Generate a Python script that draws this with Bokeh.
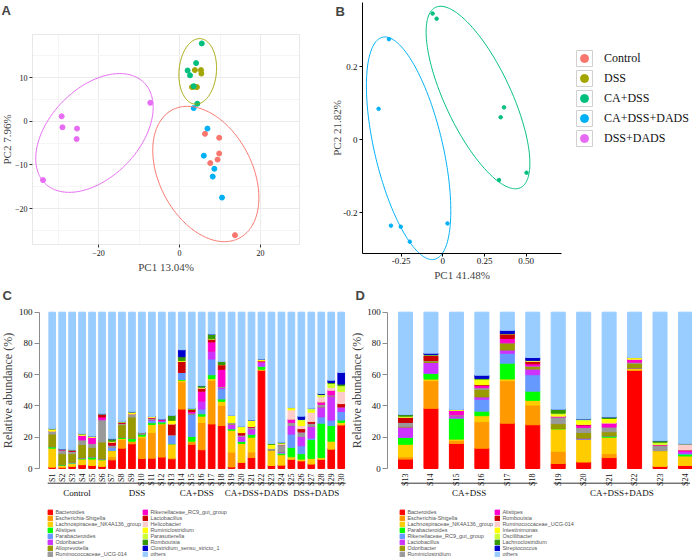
import numpy as np
from bokeh.plotting import figure
from bokeh.layouts import row, column
from bokeh.models import (Range1d, Legend, LegendItem, Label, LabelSet, Whisker, Grid,
                          ColumnDataSource, FixedTicker, LinearAxis, BoxAnnotation)
from bokeh.embed import file_html
from bokeh.resources import INLINE

SERIF = "Liberation Serif"
SANS = "Liberation Sans"

# ---------------- data ----------------
groups = ["Control", "DSS", "CA+DSS", "CA+DSS+DADS", "DSS+DADS"]
group_colors = ["#F8766D", "#A3A500", "#00BF7D", "#00B0F6", "#E76BF3"]

# Panel A (PCA) scores
a_control_pc1 = [6.3, 9.8, 9.8, 7.6, 9.4, 13.7]
a_control_pc2 = [-2.9, -3.8, -7.4, -9.6, -8.8, -26.1]
a_dss_pc1 = [3.8, 5.3, 5.4, 3.1, 4.3, 3.7]
a_dss_pc2 = [11.7, 11.7, 10.9, 7.8, 7.8, 7.9]
a_cadss_pc1 = [5.5, 4.1, 2.0, 2.6, 3.5, 4.4]
a_cadss_pc2 = [17.8, 13.3, 11.6, 10.5, 8.0, 4.0]
a_cadssdads_pc1 = [3.5, 6.9, 6.0, 8.6, 8.2, 10.5]
a_cadssdads_pc2 = [3.0, -1.7, -7.9, -10.9, -12.7, -17.5]
a_dssdads_pc1 = [-7.2, -29.1, -28.9, -25.3, -25.4, -33.7]
a_dssdads_pc2 = [4.2, 1.1, -1.4, -1.7, -4.1, -13.5]
# confidence ellipses: centre, half width, half height, correlation
a_ellipse_groups = ["Control", "DSS", "DSS+DADS"]
a_ellipse_cx = [6.5, 4.5, -21.0]
a_ellipse_cy = [-12.1, 11.4, -2.7]
a_ellipse_hx = [13.1, 4.65, 14.5]
a_ellipse_hy = [15.5, 7.5, 13.6]
a_ellipse_r = [-0.35, 0.10, 0.43]
a_xticks = [-20, 0, 20]
a_yticks = [-20, -10, 0, 10]

# Panel B (PCoA) scores
b_cadss_pc1 = [-0.061, -0.037, 0.367, 0.347, 0.502, 0.337]
b_cadss_pc2 = [0.345, 0.331, 0.088, 0.061, -0.091, -0.111]
b_cadssdads_pc1 = [-0.323, -0.385, -0.311, -0.252, -0.198, 0.028]
b_cadssdads_pc2 = [0.275, 0.084, -0.236, -0.239, -0.280, -0.230]
b_ellipse_groups = ["CA+DSS", "CA+DSS+DADS"]
b_ellipse_cx = [0.211, -0.205]
b_ellipse_cy = [0.115, -0.024]
b_ellipse_hx = [0.311, 0.253]
b_ellipse_hy = [0.250, 0.305]
b_ellipse_r = [-0.72, -0.56]
b_xticks = [-0.25, 0, 0.25, 0.5]
b_xlabels = ["-0.25", "0", "0.25", "0.50"]
b_yticks = [-0.2, 0, 0.2]
b_ylabels = ["-0.2", "0", "0.2"]

palette16 = ["#FF0000", "#FF9900", "#FFCC00", "#00FF00", "#6699FF", "#CC33FF",
             "#999900", "#999999", "#FF00CC", "#CC0000", "#FFCCCC", "#FFFF00",
             "#CCFF33", "#339900", "#0000CC", "#99CCFF"]

# Panel C (genus composition, all samples)
c_samples = ["S%d" % i for i in range(1, 31)]
c_sample_groups = ["Control"] * 6 + ["DSS"] * 6 + ["CA+DSS"] * 6 + ["CA+DSS+DADS"] * 6 + ["DSS+DADS"] * 6
c_taxa = ["Bacteroides", "Escherichia-Shigella", "Lachnospiraceae_NK4A136_group", "Alistipes",
          "Parabacteroides", "Odoribacter", "Alloprevotella", "Ruminococcaceae_UCG-014",
          "Rikenellaceae_RC9_gut_group", "Lactobacillus", "Helicobacter", "Ruminiclostridium",
          "Parasutterella", "Romboutsia", "Clostridium_sensu_stricto_1"]
c_bacteroides = [1, 0.5, 1.5, 2.5, 2, 1.5, 5.5, 13, 15.8, 6.4, 6.6, 7.3, 6.2, 38, 15.5, 12, 28.5, 27.5, 1, 4, 7, 63, 2, 2.3, 6, 5, 3, 6, 12.5, 28]
c_escherichia = [0, 0.5, 0, 0, 0, 0, 2, 5.5, 1.7, 13.3, 16.4, 21.3, 0.6, 17.5, 2, 17.5, 28, 13, 9.5, 0, 3.5, 0, 0, 0, 0, 0, 0, 0, 0, 0]
c_lachno = [12, 1, 2, 3.5, 4, 4, 4, 0.7, 0, 1, 5.2, 0, 9, 1, 0, 4, 1, 2.5, 14, 12, 9.5, 0.5, 10, 6.5, 1.5, 1, 3.5, 1, 5, 1.5]
c_alistipes = [1, 0.5, 0, 0.8, 1.5, 0.7, 0, 0.8, 1.9, 1.5, 1.1, 1.1, 0, 0.5, 3, 1.5, 2.5, 1.5, 1, 1.5, 2, 2, 0, 1, 6, 3.5, 12, 22, 10, 1.5]
c_parabacteroides = [0, 0, 0.5, 0, 0, 0, 2, 0, 0, 0, 1.5, 0.5, 5.4, 4.5, 14.5, 3, 10, 6.5, 0, 0, 0, 0, 0, 0.5, 8.5, 5, 1, 4, 3.5, 5.5]
c_odoribacter = [0, 0, 0, 0, 0, 0, 0, 0, 0, 0, 0.5, 0.5, 0, 0, 0, 5, 5, 1, 3, 3, 3.5, 2.5, 0, 0.5, 5.5, 6, 7.5, 6.5, 15.5, 3]
c_alloprevotella = [8, 7, 5.5, 8.5, 6, 10.7, 0, 8, 13.5, 0.3, 0, 0, 0, 0, 0, 0, 0, 0, 0, 0, 0, 0, 0, 0, 0, 0, 0, 0, 0, 0]
c_ruminococcaceae = [2, 2.5, 1.5, 3, 2.5, 14.3, 1.5, 1, 2.1, 0.5, 1, 0, 0.5, 0, 0.5, 0, 0, 0.5, 1, 1, 1, 0, 1, 4.5, 2, 3, 2, 1.5, 0.5, 0]
c_rikenellaceae = [0, 0, 0, 3, 4, 1.7, 0, 0, 0, 0, 0, 0.5, 0, 0, 1, 6.5, 6, 11, 0, 0, 0, 0.5, 0, 0, 2, 0, 0, 1.5, 3, 0]
c_lactobacillus = [0, 0.5, 0.5, 0, 0, 2.1, 2, 0.5, 0, 0, 0.5, 0.4, 6.9, 7, 1.5, 2, 2, 3, 0, 1.5, 0.5, 0.5, 0, 0, 0, 2, 1, 0, 0, 2]
c_helicobacter = [0, 0, 0, 0, 0, 0, 0, 0, 0, 0, 0, 0, 0, 0, 0, 0, 0, 0, 0, 0, 0, 0, 0, 0.5, 6, 2, 6, 3.5, 2, 8]
c_ruminiclostridium = [1.5, 0, 0.5, 1, 0.7, 0, 0.5, 0.5, 1.3, 0, 0.5, 0, 2.2, 0.5, 0, 0.5, 0, 0, 4.5, 3.5, 4, 1, 2.5, 0.5, 1.5, 3, 1, 0, 0, 0]
c_parasutterella = [0, 0, 0, 0, 0, 0, 0, 0, 0, 0, 0, 0, 0, 0, 0, 0, 0, 0, 0, 0.5, 0, 0, 0, 0, 0, 1, 1.5, 1.5, 2.5, 3.5]
c_romboutsia = [0, 0, 0, 0, 0, 0, 1.5, 0, 0, 0, 0, 0, 3.2, 2.5, 0.5, 1, 3, 2, 0, 0, 0, 0, 0.5, 0.5, 0, 0, 0, 0, 0.5, 1]
c_clostridium = [0, 0, 0, 0, 0, 0, 0, 0, 0, 0, 0, 0, 0, 4.5, 0, 0, 0, 0, 0, 0, 0, 0, 0, 0, 0, 2, 0, 0.5, 1.5, 7.5]

# Panel D (genus composition, CA+DSS vs CA+DSS+DADS)
d_samples = ["S%d" % i for i in range(13, 25)]
d_sample_groups = ["CA+DSS"] * 6 + ["CA+DSS+DADS"] * 6
d_taxa = ["Bacteroides", "Escherichia-Shigella", "Lachnospiraceae_NK4A136_group", "Parabacteroides",
          "Rikenellaceae_RC9_gut_group", "Lactobacillus", "Odoribacter", "Ruminiclostridium",
          "Alistipes", "Romboutsia", "Ruminococcaceae_UCG-014", "Intestinimonas",
          "Oscillibacter", "Lachnoclostridium", "Streptococcus"]
d_bacteroides = [6, 38.5, 16, 13, 29, 28, 3.2, 4.3, 7, 63, 1.5, 2]
d_escherichia = [1.5, 17.7, 2, 17, 27.2, 12.6, 7.8, 0, 2.5, 0, 0, 0]
d_lachno = [8, 1, 0.8, 3.8, 1.1, 3, 14.3, 14.6, 10.5, 1, 10, 6]
d_parabacteroides = [4.5, 3.8, 13.5, 2.9, 10.1, 5.9, 0.3, 0, 1, 0.3, 0, 1.2]
d_rikenellaceae = [0, 0, 0, 7.6, 6.3, 10.5, 0, 0, 0, 0, 0, 0.5]
d_lactobacillus = [6.5, 6.8, 1.5, 1.5, 2.1, 3.6, 0, 0.5, 0, 0, 0, 1.2]
d_odoribacter = [0.5, 1, 0, 4.8, 4.6, 1.7, 3.1, 3.6, 2.5, 3, 0, 0]
d_ruminiclostridium = [2.5, 0.3, 0.5, 1.1, 0, 0.3, 4.2, 3.3, 3, 0.7, 3.2, 0]
d_alistipes = [0, 0, 3, 1.4, 2.8, 1.4, 0.7, 1.5, 2.5, 2, 0.5, 1]
d_romboutsia = [3.5, 3.2, 0, 0.6, 3.1, 1.7, 0, 0.5, 0, 0, 0, 0]
d_ruminococcaceae = [0, 0, 0, 0, 0, 0, 0, 0, 0.5, 0, 0.3, 4]
d_intestinimonas = [0, 0, 0, 3, 0, 0.5, 1, 2.3, 2.5, 1, 0, 0]
d_oscillibacter = [0.5, 0.5, 0.5, 0.5, 0, 0, 0.8, 0.8, 0, 0, 1.3, 0]
d_lachnoclostridium = [1, 0, 0, 0.5, 0, 0, 2.5, 0.3, 1, 0, 1, 0]
d_streptococcus = [0, 1, 0, 2, 2.1, 1.8, 0, 0, 0, 0, 0, 0]
bar_yticks = [0, 20, 40, 60, 80, 100]


# ---------------- helpers ----------------
class Map:
    """linear map between data values and pixels of a figure (pixels from left / bottom)"""
    def __init__(self, v0, v1, p0, p1, total):
        self.s = (p1 - p0) / (v1 - v0)
        self.v0, self.p0, self.total = v0, p0, total

    def v(self, px):
        return self.v0 + (px - self.p0) / self.s

    def rng(self):
        return Range1d(self.v(0), self.v(self.total))


def ellipse_xy(cx, cy, hx, hy, r, n=240):
    t = np.linspace(0, 2 * np.pi, n)
    d = np.arccos(r)
    return cx + hx * np.cos(t), cy + hy * np.cos(t + d)


def make_fig(w, h, mx, my):
    p = figure(width=w, height=h, x_range=mx.rng(), y_range=my.rng(),
               x_axis_location=None, y_axis_location=None,
               output_backend="svg", toolbar_location=None,
               min_border_left=0, min_border_right=0, min_border_top=0, min_border_bottom=0)
    p.outline_line_color = None
    p.grid.visible = False
    return p


def axis(p, side, loc, ticks, bounds, tick_font, label="", label_font="11px",
         line_color=None, tick_color="#333333", overrides=None, tick_out=3, label_standoff=1):
    ax = LinearAxis(fixed_location=loc, ticker=FixedTicker(ticks=ticks), bounds=bounds,
                    axis_label=label)
    ax.major_label_text_font = SERIF
    ax.major_label_text_font_size = tick_font
    ax.major_label_text_color = "#111111"
    ax.axis_label_text_font = SERIF
    ax.axis_label_text_font_style = "normal"
    ax.axis_label_text_font_size = label_font
    ax.axis_label_standoff = label_standoff
    ax.minor_tick_line_color = None
    ax.axis_line_color = line_color
    ax.major_tick_line_color = tick_color
    ax.major_tick_out = tick_out
    ax.major_tick_in = 0
    ax.major_label_standoff = 2
    if overrides:
        ax.major_label_overrides = overrides
    p.add_layout(ax, side)
    return ax


def panel_label(p, text, x_px, top_px, h):
    p.add_layout(Label(x=x_px, y=h - top_px, x_units="screen", y_units="screen",
                       text=text, text_font=SANS, text_font_style="bold",
                       text_font_size="13px", text_baseline="top", text_align="left"))


color_of = dict(zip(groups, group_colors))
NAN1 = np.array([np.nan])

# ---------------- panel A ----------------
AW, AH = 300, 284
mAx = Map(0, 20, 179, 260, AW)
mAy = Map(-20, 10, AH - 208, AH - 77, AH)
ax_lo, ax_hi, ay_lo, ay_hi = mAx.v(32), mAx.v(299), mAy.v(AH - 244), mAy.v(AH - 34)
pA = make_fig(AW, AH, mAx, mAy)
pA.add_layout(Grid(dimension=0, ticker=FixedTicker(ticks=a_xticks, minor_ticks=[-30, -10, 10]),
                   bounds=(ax_lo, ax_hi), cross_bounds=(ay_lo, ay_hi),
                   grid_line_color="#EBEBEB", minor_grid_line_color="#F5F5F5"))
pA.add_layout(Grid(dimension=1, ticker=FixedTicker(ticks=a_yticks, minor_ticks=[-25, -15, -5, 5, 15]),
                   bounds=(ay_lo, ay_hi), cross_bounds=(ax_lo, ax_hi),
                   grid_line_color="#EBEBEB", minor_grid_line_color="#F5F5F5"))
pA.add_layout(BoxAnnotation(left=ax_lo, right=ax_hi, bottom=ay_lo, top=ay_hi,
                            fill_color=None, line_color="#B3B3B3", line_width=1))
axis(pA, "below", ay_lo, a_xticks, (ax_lo, ax_hi), "8px", "PC1 13.04%", label_standoff=2)
axis(pA, "left", ax_lo, a_yticks, (ay_lo, ay_hi), "8px", "PC2 7.96%", label_standoff=-1)

a_pts = [(a_control_pc1, a_control_pc2), (a_dss_pc1, a_dss_pc2), (a_cadss_pc1, a_cadss_pc2),
         (a_cadssdads_pc1, a_cadssdads_pc2), (a_dssdads_pc1, a_dssdads_pc2)]
for g, (xs, ys) in zip(groups, a_pts):
    pA.scatter(xs, ys, size=5, color=color_of[g])
for g, cx, cy, hx, hy, r in zip(a_ellipse_groups, a_ellipse_cx, a_ellipse_cy,
                                a_ellipse_hx, a_ellipse_hy, a_ellipse_r):
    ex, ey = ellipse_xy(cx, cy, hx, hy, r)
    pA.line(ex, ey, line_color=color_of[g], line_width=1)
panel_label(pA, "A", 1, 2, AH)

# ---------------- panel B ----------------
BW, BH = 392, 284
mBx = Map(0, 0.5, 142.3, 225.7, BW)
mBy = Map(-0.2, 0.2, BH - 212, BH - 66, BH)
pB = make_fig(BW, BH, mBx, mBy)
bx_axis, by_axis = mBx.v(62), mBy.v(BH - 252.7)
axis(pB, "below", by_axis, b_xticks, (bx_axis, mBx.v(261)), "9px", "PC1 41.48%",
     line_color="#000000", tick_color="#000000", overrides=dict(zip(b_xticks, b_xlabels)))
axis(pB, "left", bx_axis, b_yticks, (by_axis, mBy.v(BH - 2)), "9px", "PC2 21.82%",
     line_color="#000000", tick_color="#000000", overrides=dict(zip(b_yticks, b_ylabels)),
     label_standoff=-3)

b_pts = {"CA+DSS": (b_cadss_pc1, b_cadss_pc2), "CA+DSS+DADS": (b_cadssdads_pc1, b_cadssdads_pc2)}
b_items = []
for g in groups:
    xs, ys = b_pts.get(g, (NAN1, NAN1))
    box = pB.quad(left=NAN1, right=NAN1, top=NAN1, bottom=NAN1, fill_color="white",
                  line_color="#D0D0D0", line_width=1)
    dot = pB.scatter(x=xs, y=ys, size=3.5, color=color_of[g])
    b_items.append(LegendItem(label=g, renderers=[box, dot]))
for g, cx, cy, hx, hy, r in zip(b_ellipse_groups, b_ellipse_cx, b_ellipse_cy,
                                b_ellipse_hx, b_ellipse_hy, b_ellipse_r):
    ex, ey = ellipse_xy(cx, cy, hx, hy, r)
    pB.line(ex, ey, line_color=color_of[g], line_width=1)
legB = Legend(items=b_items, location=(274, BH - 148), orientation="vertical",
              glyph_width=20, glyph_height=20, label_height=20, spacing=0, padding=0, margin=0,
              label_standoff=10, label_text_font=SERIF, label_text_font_size="12px",
              label_text_color="#111111", border_line_color=None, background_fill_alpha=0)
pB.add_layout(legB)
panel_label(pB, "B", 35, 3, BH)


# ---------------- stacked bar panels ----------------
def bar_panel(W, H, mx, axis_px, bar_w, samples, sample_groups, taxa, series,
              br_pad, leg_x, letter, letter_x, ylab_standoff):
    y0_px = H - 184
    my = Map(0, 100, y0_px, H - 27.7, H)
    p = make_fig(W, H, mx, my)
    xs = list(range(1, len(samples) + 1))
    data = {"x": xs}
    for name, vals in zip(taxa, series):
        data[name] = vals
    data["others"] = [100 - sum(v[i] for v in series) for i in range(len(samples))]
    names = taxa + ["others"]
    rs = p.vbar_stack(names, x="x", width=bar_w, color=palette16, source=ColumnDataSource(data))

    xa = axis(p, "below", 0, xs, (mx.v(0), mx.v(W)), "8px", tick_color=None,
              overrides={x: s for x, s in zip(xs, samples)})
    xa.major_label_orientation = np.pi / 2
    axis(p, "left", mx.v(axis_px), bar_yticks, (0, 100), "9px", "Relative abundance (%)",
         label_font="12px", line_color="#8C8C8C", tick_color="#8C8C8C", tick_out=5,
         label_standoff=ylab_standoff)

    # group brackets and names
    gnames, lo, hi = [], [], []
    for x, g in zip(xs, sample_groups):
        if not gnames or gnames[-1] != g:
            gnames.append(g)
            lo.append(x - br_pad)
            hi.append(x + br_pad)
        else:
            hi[-1] = x + br_pad
    mid = [(a + b) / 2 for a, b in zip(lo, hi)]
    gsrc = ColumnDataSource(dict(lo=lo, hi=hi, mid=mid, name=gnames))
    p.add_layout(Whisker(source=gsrc, lower="lo", upper="hi", base=my.v(y0_px - 14.7),
                         dimension="width", lower_head=None, upper_head=None,
                         line_color="#333333", line_width=1))
    p.add_layout(LabelSet(source=gsrc, x="mid", y=my.v(y0_px - 24.7), text="name",
                          text_align="center", text_baseline="middle", text_font=SERIF,
                          text_font_size="9px", text_color="#111111"))

    items = [LegendItem(label=n, renderers=[r]) for n, r in zip(names, rs)]
    leg = Legend(items=items, location=(leg_x, 2), orientation="vertical", nrows=8,
                 glyph_width=6, glyph_height=6, label_height=6, label_width=87, spacing=0,
                 padding=0, margin=0, label_standoff=2, label_text_font=SANS,
                 label_text_font_size="5.5px", label_text_color="#555555",
                 border_line_color=None, background_fill_alpha=0)
    p.add_layout(leg)
    panel_label(p, letter, letter_x, 3, H)
    return p


c_series = [c_bacteroides, c_escherichia, c_lachno, c_alistipes, c_parabacteroides, c_odoribacter,
            c_alloprevotella, c_ruminococcaceae, c_rikenellaceae, c_lactobacillus, c_helicobacter,
            c_ruminiclostridium, c_parasutterella, c_romboutsia, c_clostridium]
d_series = [d_bacteroides, d_escherichia, d_lachno, d_parabacteroides, d_rikenellaceae,
            d_lactobacillus, d_odoribacter, d_ruminiclostridium, d_alistipes, d_romboutsia,
            d_ruminococcaceae, d_intestinimonas, d_oscillibacter, d_lachnoclostridium,
            d_streptococcus]

CW, DW, BOT = 350, 342, 275
pC = bar_panel(CW, BOT, Map(1, 30, 51.7, 51.7 + 29 * 9.966, CW), 39, 0.67, c_samples,
               c_sample_groups, c_taxa, c_series, 0.45, 47.4, "C", 2, 1)
pD = bar_panel(DW, BOT, Map(1, 12, 55, 335, DW), 37.3, 0.55, d_samples,
               d_sample_groups, d_taxa, d_series, 0.18, 49.4, "D", 5, 0)

layout = column(row(pA, pB), row(pC, pD))
open("out.html", "w").write(file_html(layout, INLINE))
